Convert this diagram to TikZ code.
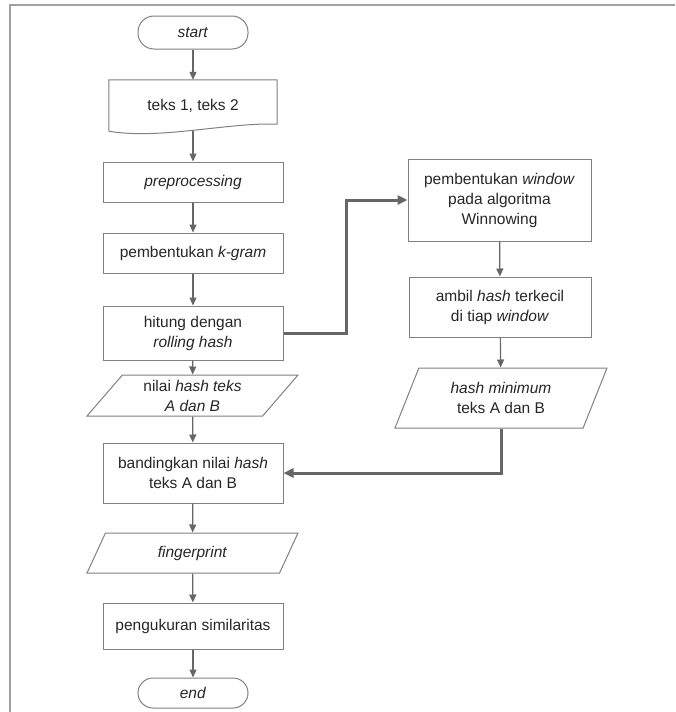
\documentclass[tikz,border=0pt]{standalone}
\usepackage{fontspec}
\setmainfont{Liberation Sans}
\usetikzlibrary{shapes.geometric,arrows.meta}
\definecolor{boxline}{HTML}{808080}
\definecolor{arrowgray}{HTML}{666666}
\definecolor{framegray}{HTML}{A0A0A0}
\definecolor{txt}{HTML}{262626}
\begin{document}
\begin{tikzpicture}[x=1pt, y=-1pt, font=\fontsize{15.5}{20}\selectfont,
    every node/.style={text=txt, align=center, inner sep=2pt},
    proc/.style={draw=boxline, line width=1pt, rectangle, minimum width=180pt, minimum height=40pt},
    terminal/.style={draw=boxline, line width=1pt, rounded corners=16pt, minimum width=110pt, minimum height=33pt},
    io/.style={draw=boxline, line width=1pt, trapezium, trapezium left angle=45, trapezium right angle=135,
        trapezium stretches body, minimum width=211pt, minimum height=41pt},
    flow/.style={draw=arrowgray, line width=1.2pt, -{Triangle[length=8pt,width=7pt]}},
    bigflow/.style={draw=arrowgray, line width=3pt, -{Triangle[length=10pt,width=9pt]}}]
    \useasboundingbox (0,0) rectangle (675,712);
    \draw[framegray, line width=1.5pt] (10,712)--(10,5)--(675,5);
    % left column
    \node[terminal] (start) at (193,32.5) {\textit{start}};
    \node[minimum width=168pt, minimum height=51pt] (input) at (193,105.5) {teks 1, teks 2};
    \draw[boxline, line width=1pt] (input.south west)--(input.north west)--(input.north east)
        --([yshift=7pt]input.south east) .. controls (230,122) and (160,140) .. (input.south west);
    \node[proc] (prep) at (193,182) {\textit{preprocessing}};
    \node[proc] (kgram) at (193,253) {pembentukan \textit{k-gram}};
    \node[proc, minimum height=54pt] (rolling) at (193,333) {hitung dengan\\\textit{rolling hash}};
    \node[io] (hashval) at (192.5,395.5) {nilai \textit{hash teks}\\\textit{A dan B}};
    \node[proc, minimum height=60pt] (compare) at (193,473) {bandingkan nilai \textit{hash}\\teks A dan B};
    \node[io, minimum height=40pt] (fprint) at (192.5,553) {\textit{fingerprint}};
    \node[proc, minimum height=46pt] (simil) at (193,626) {pengukuran similaritas};
    \node[terminal, minimum height=30pt, rounded corners=15pt] (finish) at (193,693) {\textit{end}};
    % right column
    \node[proc, minimum width=183pt, minimum height=82pt] (window) at (499.5,200) {pembentukan \textit{window}\\pada algoritma\\Winnowing};
    \node[proc, minimum width=182pt, minimum height=60pt] (smallest) at (500,307) {ambil \textit{hash} terkecil\\di tiap \textit{window}};
    \node[io, trapezium left angle=56, trapezium right angle=124, minimum width=212pt, minimum height=60pt] (hashmin) at (501,398) {\textit{hash minimum}\\teks A dan B};
    % arrows
    \draw[flow] (start)--(input);
    \draw[flow] (input)--(prep);
    \draw[flow] (prep)--(kgram);
    \draw[flow] (kgram)--(rolling);
    \draw[flow] (rolling)--(hashval);
    \draw[flow] (hashval)--(compare);
    \draw[flow] (compare)--(fprint);
    \draw[flow] (fprint)--(simil);
    \draw[flow] (simil)--(finish);
    \draw[flow] (window)--(smallest);
    \draw[flow] (smallest)--(hashmin);
    \coordinate (elbow) at (346,0);
    \draw[bigflow] (rolling.east)--(rolling.east -| elbow)--(elbow |- window.west)--(window.west);
    \draw[bigflow] (hashmin.south) |- (compare.east);
\end{tikzpicture}
\end{document}
